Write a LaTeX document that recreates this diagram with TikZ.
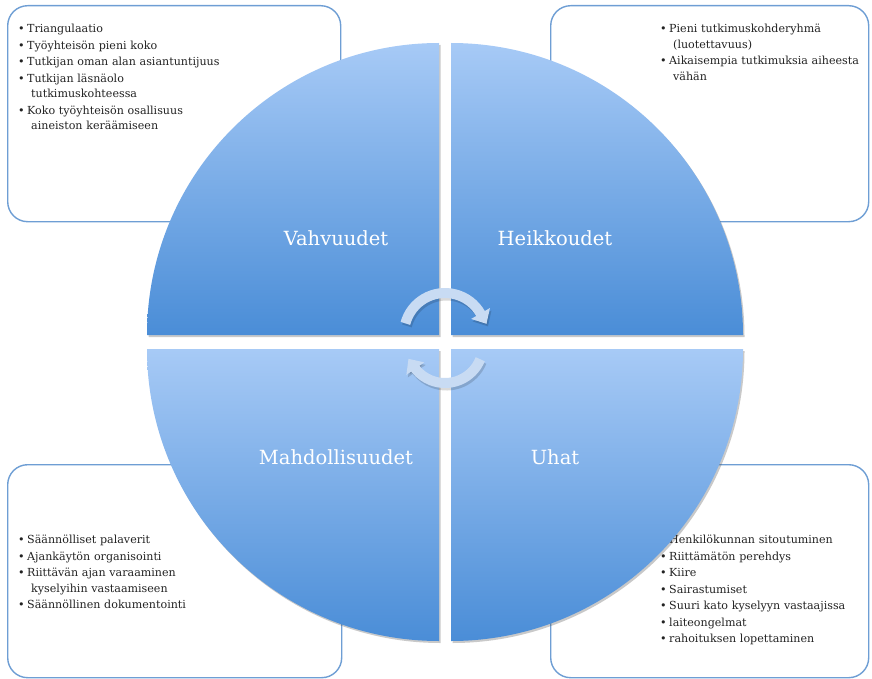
\documentclass[tikz,border=0pt]{standalone}
\usepackage{fontspec}
\setmainfont{DejaVu Serif}
\usepackage{tikz}
\usetikzlibrary{arrows.meta, shadows, positioning}
\definecolor{quadlight}{HTML}{A7CAF6}
\definecolor{quaddark}{HTML}{4A8DD7}
\definecolor{boxline}{HTML}{6E9ED4}
\definecolor{cyclefill}{HTML}{C8DBF3}
\definecolor{listtext}{HTML}{222222}

% one bullet line with hanging continuation lines
\newcommand{\bitem}[1]{\noindent\hangindent=13pt\hangafter=1\makebox[9pt][l]{\textbullet}#1\par}

\begin{document}
\begin{tikzpicture}[
    x=1pt, y=1pt,
    infobox/.style={
        rectangle,
        rounded corners=20pt,
        draw=boxline,
        fill=white,
        line width=1.4pt,
        anchor=north west,
        inner sep=0pt
    },
    itemlist/.style={
        anchor=north west,
        inner sep=0pt,
        text width=230pt,
        align=left,
        text=listtext,
        font=\fontsize{11.1}{15.5}\selectfont,
        execute at begin node={\setlength{\parskip}{1pt}}
    },
    quadrant/.style={
        top color=quadlight,
        bottom color=quaddark,
        drop shadow={shadow xshift=1.5pt, shadow yshift=-2pt, opacity=0.3, fill=black!70}
    },
    quadlabel/.style={
        text=white,
        font=\fontsize{19.5}{22}\selectfont
    },
    cyclearrow/.style={
        line width=10pt,
        draw=cyclefill,
        -{Triangle[width=21pt, length=12pt]}
    },
    cycleshadow/.style={
        line width=10pt,
        draw=black,
        opacity=0.15,
        -{Triangle[width=21pt, length=12pt]}
    }
]
\useasboundingbox (0,0) rectangle (872,-679);

% Boxes
\node[infobox, minimum width=333pt, minimum height=216pt] (vbox) at (7,-5) {};
\node[infobox, minimum width=318pt, minimum height=216pt] (hbox) at (550,-5) {};
\node[infobox, minimum width=334pt, minimum height=213pt] (mbox) at (7,-464) {};
\node[infobox, minimum width=318pt, minimum height=213pt] (ubox) at (550,-464) {};

% Lists
\node[itemlist] (vlist) at ([xshift=11pt, yshift=-19pt]vbox.north west) {%
  \bitem{Triangulaatio}
  \bitem{Työyhteisön pieni koko}
  \bitem{Tutkijan oman alan asiantuntijuus}
  \bitem{Tutkijan läsnäolo\newline tutkimuskohteessa}
  \bitem{Koko työyhteisön osallisuus\newline aineiston keräämiseen}};
\node[itemlist] (hlist) at ([xshift=110pt, yshift=-19pt]hbox.north west) {%
  \bitem{Pieni tutkimuskohderyhmä\newline (luotettavuus)}
  \bitem{Aikaisempia tutkimuksia aiheesta\newline vähän}};
\node[itemlist] (mlist) at ([xshift=11pt, yshift=-71pt]mbox.north west) {%
  \bitem{Säännölliset palaverit}
  \bitem{Ajankäytön organisointi}
  \bitem{Riittävän ajan varaaminen\newline kyselyihin vastaamiseen}
  \bitem{Säännöllinen dokumentointi}};
\node[itemlist] (ulist) at ([xshift=110pt, yshift=-71pt]ubox.north west) {%
  \bitem{Henkilökunnan sitoutuminen}
  \bitem{Riittämätön perehdys}
  \bitem{Kiire}
  \bitem{Sairastumiset}
  \bitem{Suuri kato kyselyyn vastaajissa}
  \bitem{laiteongelmat}
  \bitem{rahoituksen lopettaminen}};

% Circle quadrants
\coordinate (tl) at (439,-335);
\coordinate (tr) at (451,-335);
\coordinate (bl) at (439,-349);
\coordinate (br) at (451,-349);
\shade[quadrant] (tl) -- ++(-292,0) arc[start angle=180, end angle=90, radius=292] -- cycle;
\shade[quadrant] (tr) -- ++(0,292) arc[start angle=90, end angle=0, radius=292] -- cycle;
\shade[quadrant] (bl) -- ++(-292,0) arc[start angle=180, end angle=270, radius=292] -- cycle;
\shade[quadrant] (br) -- ++(292,0) arc[start angle=0, end angle=-90, radius=292] -- cycle;

% Labels
\node[quadlabel] (vlabel) at (336,-238) {Vahvuudet};
\node[quadlabel] (hlabel) at (555,-238) {Heikkoudet};
\node[quadlabel] (mlabel) at (336,-457) {Mahdollisuudet};
\node[quadlabel] (ulabel) at (555,-457) {Uhat};

% Cycle arrows
\coordinate (topc) at (445,-334);
\coordinate (botc) at (445,-345);
\draw[cycleshadow] ([shift={(165:41)}]topc) ++(1.5,-2.5) arc[start angle=165, end angle=30, radius=41] -- ++(-60:12);
\draw[cyclearrow] ([shift={(165:41)}]topc) arc[start angle=165, end angle=30, radius=41] -- ++(-60:12);
\draw[cycleshadow] ([shift={(-22:38)}]botc) ++(1.5,-2.5) arc[start angle=-22, end angle=-140, radius=38] -- ++(125:13);
\draw[cyclearrow] ([shift={(-22:38)}]botc) arc[start angle=-22, end angle=-140, radius=38] -- ++(125:13);

\end{tikzpicture}
\end{document}
